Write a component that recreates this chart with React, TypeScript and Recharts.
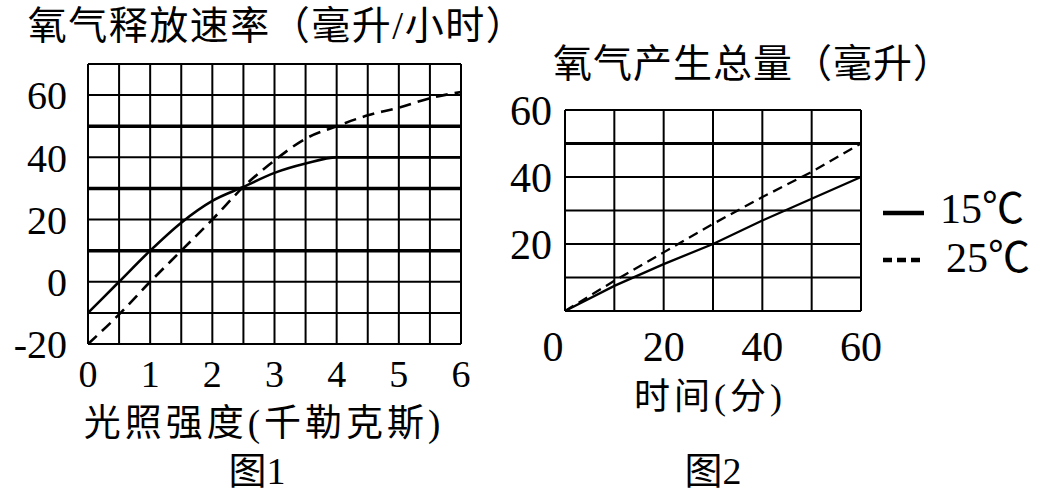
import React from 'react';
import { LineChart, Line, XAxis, YAxis, CartesianGrid, ReferenceLine } from 'recharts';

const FONT = '"Liberation Serif", "Noto Sans CJK SC", serif';

// 图1: 光照强度 vs 氧气释放速率
const LIGHT = [0, 0.5, 1, 1.5, 2, 2.5, 3, 3.5, 4, 4.5, 5, 5.5, 6];
const RATE_15 = [-10, 0, 10, 19, 26, 30.5, 35, 38, 40, 40, 40, 40, 40];
const RATE_25 = [-20, -10.5, 0, 10, 20, 30.5, 39, 46, 50, 53.5, 56, 59, 61];
const X1_TICKS = [0, 0.5, 1, 1.5, 2, 2.5, 3, 3.5, 4, 4.5, 5, 5.5, 6];
const Y1_TICKS = [-20, -10, 0, 10, 20, 30, 40, 50, 60, 70];
const Y1_LABELS = [-20, 0, 20, 40, 60];
const Y1_BOLD = [10, 30, 50];

// 图2: 时间 vs 氧气产生总量
const MINUTES = [0, 10, 20, 30, 40, 50, 60];
const TOTAL_15 = [0, 7.5, 14, 20, 27, 33.5, 40];
const TOTAL_25 = [0, 9, 17.5, 26, 34, 41.5, 50];
const X2_TICKS = [0, 10, 20, 30, 40, 50, 60];
const X2_LABELS = [0, 20, 40, 60];
const Y2_TICKS = [0, 10, 20, 30, 40, 50, 60];
const Y2_LABELS = [20, 40, 60];
const Y2_BOLD = [50];

const SERIES = [
  { key: 't15', name: '15℃', dash: undefined, legendDash: undefined },
  { key: 't25', name: '25℃', dash: '10 6', legendDash: '9 5' },
];

const data1 = LIGHT.map((x, i) => ({ x, t15: RATE_15[i], t25: RATE_25[i] }));
const data2 = MINUTES.map((x, i) => ({ x, t15: TOTAL_15[i], t25: TOTAL_25[i] }));

function Label({ text, cx, cy, size, spacing = 0 }: { text: string; cx: number; cy: number; size: number; spacing?: number }) {
  return (
    <div style={{
      position: 'absolute', left: cx - 300, top: cy - size / 2, width: 600,
      textAlign: 'center', fontSize: size, lineHeight: 1, fontFamily: FONT,
      letterSpacing: spacing, whiteSpace: 'nowrap', color: '#000',
    }}>{text}</div>
  );
}

function X2Tick(props: any) {
  const { x, y, payload } = props;
  if (!X2_LABELS.includes(payload.value)) return null;
  const shift = payload.value === 0 ? -12 : 0;
  return (
    <text x={x + shift} y={y} dy="0.71em" textAnchor="middle" fontSize={42} fontFamily={FONT} fill="#000">
      {payload.value}
    </text>
  );
}

function LegendBox() {
  return (
    <svg width={170} height={100} style={{ position: 'absolute', left: 883, top: 185 }}>
      {SERIES.map((s, i) => (
        <g key={s.key}>
          <line x1={0} x2={41} y1={28 + i * 47} y2={28 + i * 47} stroke="#000"
            strokeWidth={4.5} strokeDasharray={s.legendDash} />
          <text x={57 + i * 6} y={24 + i * 49} dominantBaseline="central" fontSize={42}
            fontFamily={FONT} fill="#000">{s.name}</text>
        </g>
      ))}
    </svg>
  );
}

export default function App() {
  return (
    <div style={{ position: 'absolute', left: 0, top: 0, width: 1048, height: 500, background: '#fff', overflow: 'hidden' }}>
      <Label text="氧气释放速率（毫升/小时）" cx={277} cy={25} size={39} spacing={1.5} />
      <Label text="氧气产生总量（毫升）" cx={753} cy={63} size={39} spacing={1} />
      <Label text="光照强度(千勒克斯)" cx={264} cy={423} size={37} spacing={4} />
      <Label text="图1" cx={257} cy={471} size={38} />
      <Label text="时间(分)" cx={710} cy={397} size={36} spacing={4} />
      <Label text="图2" cx={713} cy={471} size={38} />

      <div style={{ position: 'absolute', left: 0, top: 0 }}>
        <LineChart width={480} height={400} data={data1} margin={{ top: 64, right: 19, left: 0, bottom: 16 }}>
          <CartesianGrid stroke="#000" strokeWidth={2} strokeOpacity={1} />
          <XAxis dataKey="x" type="number" domain={[0, 6]} ticks={X1_TICKS} interval={0} height={40}
            axisLine={false} tickLine={false} tickMargin={10}
            tickFormatter={(v: number) => (Number.isInteger(v) ? String(v) : '')}
            tick={{ fill: '#000', fontSize: 38, fontFamily: FONT }} />
          <YAxis type="number" domain={[-20, 70]} ticks={Y1_TICKS} interval={0} width={88}
            axisLine={false} tickLine={false} tickMargin={15}
            tickFormatter={(v: number) => (Y1_LABELS.includes(v) ? String(v) : '')}
            tick={{ fill: '#000', fontSize: 40, fontFamily: FONT }} />
          {Y1_BOLD.map(v => <ReferenceLine key={v} y={v} stroke="#000" strokeWidth={3.5} />)}
          <Line dataKey="t15" name="15℃" type="monotone" stroke="#000" strokeWidth={2.6} dot={false} isAnimationActive={false} />
          <Line dataKey="t25" name="25℃" type="monotone" stroke="#000" strokeWidth={2.6} strokeDasharray="12 7" dot={false} isAnimationActive={false} />
        </LineChart>
      </div>

      <div style={{ position: 'absolute', left: 480, top: 0 }}>
        <LineChart width={568} height={400} data={data2} margin={{ top: 110, right: 187, left: 0, bottom: 49 }}>
          <CartesianGrid stroke="#000" strokeWidth={2} strokeOpacity={1} />
          <XAxis dataKey="x" type="number" domain={[0, 60]} ticks={X2_TICKS} interval={0} height={40}
            axisLine={false} tickLine={false} tickMargin={14} tick={<X2Tick />} />
          <YAxis type="number" domain={[0, 60]} ticks={Y2_TICKS} interval={0} width={85}
            axisLine={false} tickLine={false} tickMargin={7}
            tickFormatter={(v: number) => (Y2_LABELS.includes(v) ? String(v) : '')}
            tick={{ fill: '#000', fontSize: 42, fontFamily: FONT }} />
          {Y2_BOLD.map(v => <ReferenceLine key={v} y={v} stroke="#000" strokeWidth={3} />)}
          {SERIES.map(s => (
            <Line key={s.key} dataKey={s.key} name={s.name} type="linear" stroke="#000" strokeWidth={2.3}
              strokeDasharray={s.dash} dot={false} isAnimationActive={false} />
          ))}
        </LineChart>
      </div>

      <LegendBox />
    </div>
  );
}
